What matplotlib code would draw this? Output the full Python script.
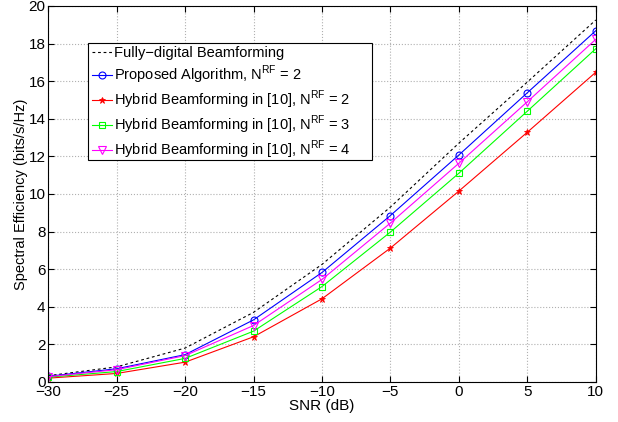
import matplotlib
matplotlib.use("Agg")
import matplotlib.pyplot as plt
from matplotlib.patches import Rectangle

plt.rcParams['font.family'] = ['Liberation Sans', 'DejaVu Sans']

snr = [-30, -25, -20, -15, -10, -5, 0, 5, 10]
fully_digital = [0.33, 0.80, 1.80, 3.70, 6.25, 9.30, 12.70, 15.95, 19.25]
proposed_2 = [0.30, 0.70, 1.45, 3.30, 5.82, 8.85, 12.07, 15.38, 18.68]
hybrid_2 = [0.20, 0.45, 1.05, 2.40, 4.42, 7.12, 10.15, 13.28, 16.47]
hybrid_3 = [0.25, 0.55, 1.25, 2.70, 5.07, 7.97, 11.10, 14.40, 17.72]
hybrid_4 = [0.28, 0.65, 1.40, 3.00, 5.45, 8.45, 11.63, 14.90, 18.22]

labels = ['Fully\u2212digital Beamforming',
          r'Proposed Algorithm, N$^{\mathregular{RF}}$ = 2',
          r'Hybrid Beamforming in [10], N$^{\mathregular{RF}}$ = 2',
          r'Hybrid Beamforming in [10], N$^{\mathregular{RF}}$ = 3',
          r'Hybrid Beamforming in [10], N$^{\mathregular{RF}}$ = 4']

fig = plt.figure(figsize=(6.18, 4.22), dpi=100)
ax = fig.add_axes([0.078, 0.095, 0.886, 0.891])

lw = 0.8
ax.plot(snr, fully_digital, 'k--', lw=lw, dashes=(2.5, 2.5), label=labels[0])
ax.plot(snr, proposed_2, color='#0000ff', marker='o', mfc='none', ms=5, mew=0.8, lw=lw, label=labels[1])
ax.plot(snr, hybrid_2, color='#ff0000', marker='*', ms=4.5, mew=0.6, lw=lw, label=labels[2])
ax.plot(snr, hybrid_3, color='#00ff00', marker='s', mfc='none', ms=5, mew=0.8, lw=lw, label=labels[3])
ax.plot(snr, hybrid_4, color='#ff00ff', marker='v', mfc='none', ms=5.5, mew=0.8, lw=lw, label=labels[4])

ax.set_xlim(-30, 10)
ax.set_ylim(0, 20)
ax.set_xticks(range(-30, 11, 5))
ax.set_xticklabels(['\u221230', '\u221225', '\u221220', '\u221215', '\u221210', '\u22125', '0', '5', '10'])
ax.set_yticks(range(0, 21, 2))
ax.grid(True, color='#b0b0b0', linestyle=':', linewidth=0.8)
ax.tick_params(direction='in', top=True, right=True, labelsize=11, length=4, pad=2)
for s in ax.spines.values():
    s.set_linewidth(0.8)
ax.set_xlabel('SNR (dB)', fontsize=11, labelpad=0)
ax.set_ylabel('Spectral Efficiency (bits/s/Hz)', fontsize=10.5, labelpad=0)

# legend frame (MATLAB-style wide box)
box = Rectangle((0.073, 0.590), 0.518, 0.312, transform=ax.transAxes,
                facecolor='white', edgecolor='black', linewidth=0.8, zorder=4.5)
ax.add_patch(box)
leg = ax.legend(loc='upper left', bbox_to_anchor=(0.073, 0.902),
                fontsize=10.5, frameon=False,
                handlelength=1.4, handletextpad=0.15, borderpad=0.25, labelspacing=0.2,
                borderaxespad=0)
leg.set_zorder(5)

fig.savefig('out.png', dpi=100)
